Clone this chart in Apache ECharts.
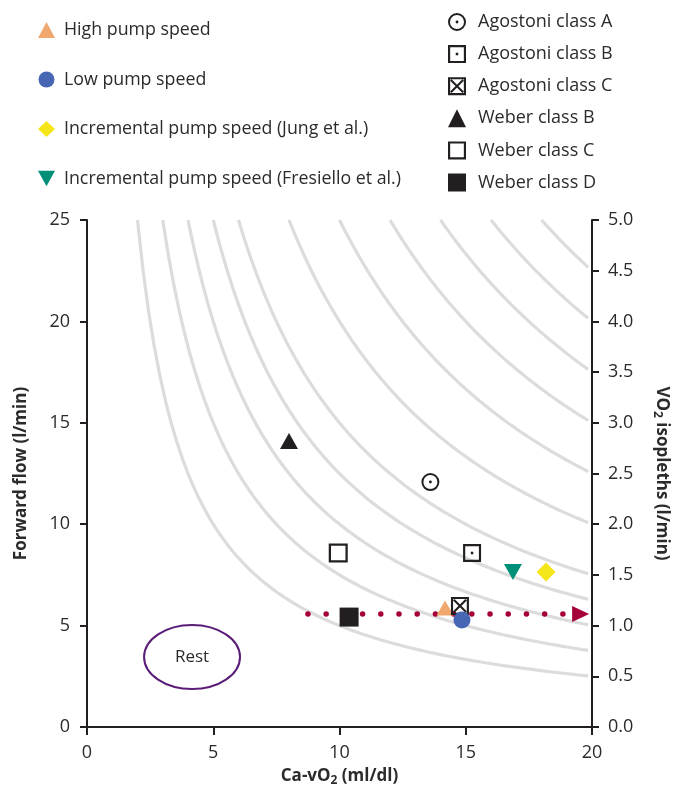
<!DOCTYPE html>
<html><head><meta charset="utf-8">
<script src="https://cdn.jsdelivr.net/npm/echarts@6/dist/echarts.min.js"></script>
<style>html,body{margin:0;padding:0;background:#fff}#c{width:673px;height:791px}</style>
</head><body><div id="c"></div>
<script>
// ---- data ----
var xTicks = [0, 5, 10, 15, 20];
var vo2Levels = [0.5, 0.75, 1.0, 1.25, 1.5, 2.0, 2.5, 3.0, 3.5, 4.0, 4.5];
var highPump = [[14.18, 5.87]];
var lowPump = [[14.85, 5.28]];
var jung = [[18.18, 7.64]];
var fresiello = [[16.87, 7.64]];
var agostoniA = [[13.6, 12.08]];
var agostoniB = [[15.25, 8.58]];
var agostoniC = [[14.77, 5.97]];
var weberB = [[8.0, 14.1]];
var weberC = [[9.95, 8.58]];
var weberD = [[10.38, 5.42]];
var pumpPath = [[8.75, 5.57], [19.3, 5.57]];
var pumpArrow = [[19.55, 5.57]];
var restArea = [[4.16, 3.45, 3.8, 3.16]]; // cx, cy, width (x units), height (y units)

// ---- symbols ----
var SYM_OPEN_SQ = 'path://M0 0L100 0L100 100L0 100Z M12 12L12 88L88 88L88 12Z';
var SYM_DOT_SQ = SYM_OPEN_SQ + ' M43 43L57 43L57 57L43 57Z';
var SYM_X_SQ = SYM_OPEN_SQ + ' M12 20L20 12L88 80L80 88Z M80 12L88 20L20 88L12 80Z';
var SYM_DOT_CIRC = 'path://M0 50A50 50 0 1 1 100 50A50 50 0 1 1 0 50Z M11 50A39 39 0 1 0 89 50A39 39 0 1 0 11 50Z M42 50A8 8 0 1 1 58 50A8 8 0 1 1 42 50Z';
var SYM_DOWN_TRI = 'path://M0 0L100 0L50 90Z';

var FONT = 'Open Sans';
var TXT = '#2b2b2b';
var AX = '#231f20';

var series = [];
vo2Levels.forEach(function (v) {
  var pts = [];
  var x0 = 100 * v / 25;
  var n = 80;
  for (var i = 0; i <= n; i++) {
    var x = x0 + (19.85 - x0) * i / n;
    pts.push([x, 100 * v / x]);
  }
  series.push({type: 'line', data: pts, showSymbol: false, silent: true, z: 1,
    lineStyle: {color: '#dcdcdc', width: 3.2}});
});

series.push({type: 'line', name: 'path', data: pumpPath, showSymbol: false, silent: true, z: 2,
  lineStyle: {color: '#a5003a', width: 5.5, type: [0.01, 18.2], cap: 'round'}});
series.push({type: 'scatter', name: 'arrow', data: pumpArrow, symbol: 'triangle', symbolRotate: -90,
  symbolSize: [16, 17], itemStyle: {color: '#a5003a', opacity: 1}, z: 3});

series.push({type: 'custom', name: 'rest', data: restArea, z: 2,
  renderItem: function (params, api) {
    var c = api.coord([api.value(0), api.value(1)]);
    var s = api.size([api.value(2), api.value(3)]);
    return {type: 'group', children: [
      {type: 'ellipse', shape: {cx: c[0], cy: c[1], rx: s[0] / 2, ry: s[1] / 2},
        style: {fill: 'none', stroke: '#5a1d78', lineWidth: 2}},
      {type: 'text', x: c[0], y: c[1], style: {text: 'Rest', fontFamily: FONT, fontSize: 17, fill: TXT,
        align: 'center', verticalAlign: 'middle'}}
    ]};
  }});

function sc(name, data, symbol, size, color, z) {
  return {type: 'scatter', name: name, data: data, symbol: symbol, symbolSize: size,
    itemStyle: {color: color, borderWidth: 0, opacity: 1}, z: z || 5};
}
series.push(sc('Weber class D', weberD, 'rect', 19, '#231f20', 4));
series.push(sc('Weber class C', weberC, SYM_OPEN_SQ, 19, '#231f20'));
series.push(sc('Weber class B', weberB, 'triangle', [18, 16], '#231f20'));
series.push(sc('Agostoni class A', agostoniA, SYM_DOT_CIRC, 18, '#231f20'));
series.push(sc('Agostoni class B', agostoniB, SYM_DOT_SQ, 18, '#231f20'));
series.push(sc('High pump speed', highPump, 'triangle', [17, 15], '#f0a86e', 5));
series.push(sc('Agostoni class C', agostoniC, SYM_X_SQ, 18, '#231f20', 6));
series.push(sc('Low pump speed', lowPump, 'circle', 17, '#4767b4', 7));
series.push(sc('Incremental pump speed (Jung et al.)', jung, 'diamond', 19, '#f5e61a'));
series.push(sc('Incremental pump speed (Fresiello et al.)', fresiello, SYM_DOWN_TRI, [18, 16], '#00907a'));

var chart = echarts.init(document.getElementById('c'), null, {renderer: 'canvas'});
chart.setOption({
  animation: false,
  backgroundColor: '#fff',
  textStyle: {fontFamily: FONT},
  legend: [{
    orient: 'vertical', left: 33, top: 16, itemWidth: 17, itemHeight: 16, itemGap: 31.5,
    selectedMode: false,
    textStyle: {fontFamily: FONT, fontSize: 17.8, color: TXT, lineHeight: 18, padding: [0, 0, 0, 4]},
    data: ['High pump speed', 'Low pump speed', 'Incremental pump speed (Jung et al.)', 'Incremental pump speed (Fresiello et al.)']
  }, {
    orient: 'vertical', left: 443, top: 8, itemWidth: 18, itemHeight: 18, itemGap: 14.1,
    selectedMode: false,
    textStyle: {fontFamily: FONT, fontSize: 18, color: TXT, lineHeight: 18, padding: [0, 0, 0, 7]},
    data: ['Agostoni class A', 'Agostoni class B', 'Agostoni class C', 'Weber class B', 'Weber class C', 'Weber class D']
  }],
  grid: {left: 87, right: 81, top: 220, bottom: 64, outerBoundsMode: 'none', containLabel: false},
  xAxis: {
    type: 'value', min: 0, max: 20, interval: 5,
    name: 'Ca-vO{sub|2} (ml/dl)', nameLocation: 'middle', nameGap: 39,
    nameTextStyle: {fontFamily: FONT, fontSize: 17, fontWeight: 'bold', color: TXT,
      rich: {sub: {fontSize: 12, fontWeight: 'bold', verticalAlign: 'bottom', padding: [9, 0, 0, 0], color: TXT, fontFamily: FONT}}},
    axisLine: {lineStyle: {color: AX, width: 2}},
    axisTick: {length: 8, lineStyle: {color: AX, width: 2}},
    axisLabel: {fontFamily: FONT, fontSize: 18, color: TXT, margin: 17,
      formatter: function (v) { return xTicks.indexOf(v) >= 0 ? String(v) : ''; }},
    splitLine: {show: false}
  },
  yAxis: [{
    type: 'value', min: 0, max: 25, interval: 5, position: 'left',
    name: 'Forward flow (l/min)', nameLocation: 'middle', nameGap: 57, nameRotate: 90,
    nameTextStyle: {fontFamily: FONT, fontSize: 17, fontWeight: 'bold', color: TXT},
    axisLine: {show: true, lineStyle: {color: AX, width: 2}},
    axisTick: {show: true, length: 7, lineStyle: {color: AX, width: 2}},
    axisLabel: {fontFamily: FONT, fontSize: 18, color: TXT, margin: 17},
    splitLine: {show: false}
  }, {
    type: 'value', min: 0, max: 5, interval: 0.5, position: 'right',
    name: 'VO{sub|2} isopleths (l/min)', nameLocation: 'middle', nameGap: 59, nameRotate: -90,
    nameTextStyle: {fontFamily: FONT, fontSize: 17, fontWeight: 'bold', color: TXT,
      rich: {sub: {fontSize: 12, fontWeight: 'bold', verticalAlign: 'bottom', padding: [9, 0, 0, 0], color: TXT, fontFamily: FONT}}},
    axisLine: {show: true, lineStyle: {color: AX, width: 2}},
    axisTick: {show: true, length: 7, lineStyle: {color: AX, width: 2}},
    axisLabel: {fontFamily: FONT, fontSize: 18, color: TXT, margin: 16,
      formatter: function (v) { return v.toFixed(1); }},
    splitLine: {show: false}
  }],
  series: series
});
</script>
</body></html>
